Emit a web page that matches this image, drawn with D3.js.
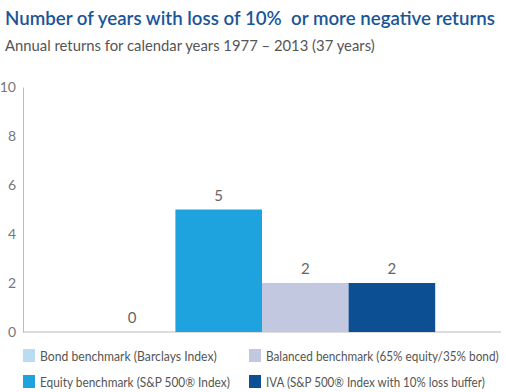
<!DOCTYPE html>
<html>
<head>
<meta charset="utf-8">
<script src="https://cdn.jsdelivr.net/npm/d3@7"></script>
<style>
  body { margin: 0; background: #fff; }
  svg text { font-family: Lato, "Open Sans", sans-serif; white-space: pre; }
</style>
</head>
<body>
<div id="chart"></div>
<script>
// chart data
var categories = ["Bond benchmark (Barclays Index)", "Equity benchmark (S&P 500\u00AE Index)",
                  "Balanced benchmark (65% equity/35% bond)", "IVA (S&P 500\u00AE Index with 10% loss buffer)"];
var values = [0, 5, 2, 2];
var colors = ["#b9dcf3", "#1ea3df", "#c3c8e1", "#0c4f92"];
var yTicks = [0, 2, 4, 6, 8, 10];

var svgWidth = 506, svgHeight = 392;
var margin = {top: 87, bottom: 60, left: 23, right: 5};
var chartWidth = svgWidth - margin.left - margin.right;
var chartHeight = svgHeight - margin.top - margin.bottom;

var svg = d3.select("#chart").append("svg")
    .attr("width", svgWidth)
    .attr("height", svgHeight);

// squeeze a text horizontally to a given width (the reference font is condensed)
function fitWidth(sel, x, y, width) {
    sel.each(function(d, i) {
        var w = typeof width === "function" ? width(d, i) : width;
        var natural = this.getComputedTextLength();
        var k = Math.min(1, w / natural);
        d3.select(this).attr("transform", `translate(${x},${y}) scale(${k},1)`);
    });
}

// titles
svg.append("text")
    .attr("fill", "#1a5696")
    .attr("font-size", 20)
    .attr("font-weight", 600)
    .text("Number of years with loss of 10%  or more negative returns")
    .call(fitWidth, 5, 25, 490);

svg.append("text")
    .attr("fill", "#555")
    .attr("font-size", 15.5)
    .text("Annual returns for calendar years 1977 \u2013 2013 (37 years)")
    .call(fitWidth, 5, 51, 370);

var chartGroup = svg.append("g")
    .attr("transform", `translate(${margin.left},${margin.top})`);

var xScale = d3.scaleBand()
    .domain(categories)
    .range([0, chartWidth])
    .paddingInner(0)
    .paddingOuter(0.76);

var yScale = d3.scaleLinear()
    .domain([0, 10])
    .range([chartHeight, 0]);

// y axis: line + labels, no tick marks
var yAxis = d3.axisLeft(yScale).tickValues(yTicks).tickSize(0).tickPadding(7);
var yG = chartGroup.append("g").call(yAxis);
yG.select(".domain").attr("stroke", "#bbb");
yG.selectAll("text")
    .attr("fill", "#777")
    .attr("font-size", 14)
    .style("font-family", "Lato, sans-serif");

// baseline
chartGroup.append("line")
    .attr("x1", 0).attr("x2", chartWidth)
    .attr("y1", yScale(0)).attr("y2", yScale(0))
    .attr("stroke", "#bbb");

// bars
chartGroup.append("g")
    .selectAll("rect")
    .data(values)
    .enter()
    .append("rect")
        .attr("x", (d, i) => xScale(categories[i]))
        .attr("y", d => yScale(d))
        .attr("width", xScale.bandwidth())
        .attr("height", d => yScale(0) - yScale(d))
        .attr("fill", (d, i) => colors[i]);

// value labels
chartGroup.append("g")
    .selectAll("text")
    .data(values)
    .enter()
    .append("text")
        .attr("x", (d, i) => xScale(categories[i]) + xScale.bandwidth() / 2)
        .attr("y", d => yScale(d) - 9)
        .attr("text-anchor", "middle")
        .attr("fill", "#666")
        .attr("font-size", 15)
        .text(d => d);

// legend, two columns
var legendPos = [[23, 349], [23, 375], [249, 349], [249, 375]];
var legendTextLen = [177, 190, 233, 219];
var legend = svg.append("g")
    .selectAll("g")
    .data(categories)
    .enter()
    .append("g")
        .attr("transform", (d, i) => `translate(${legendPos[i][0]},${legendPos[i][1]})`);

legend.append("rect")
    .attr("width", 12).attr("height", 13)
    .attr("fill", (d, i) => colors[i]);

legend.append("text")
    .attr("fill", "#555")
    .attr("font-size", 13.5)
    .text(d => d)
    .call(fitWidth, 17, 12, (d, i) => legendTextLen[i]);
</script>
</body>
</html>
